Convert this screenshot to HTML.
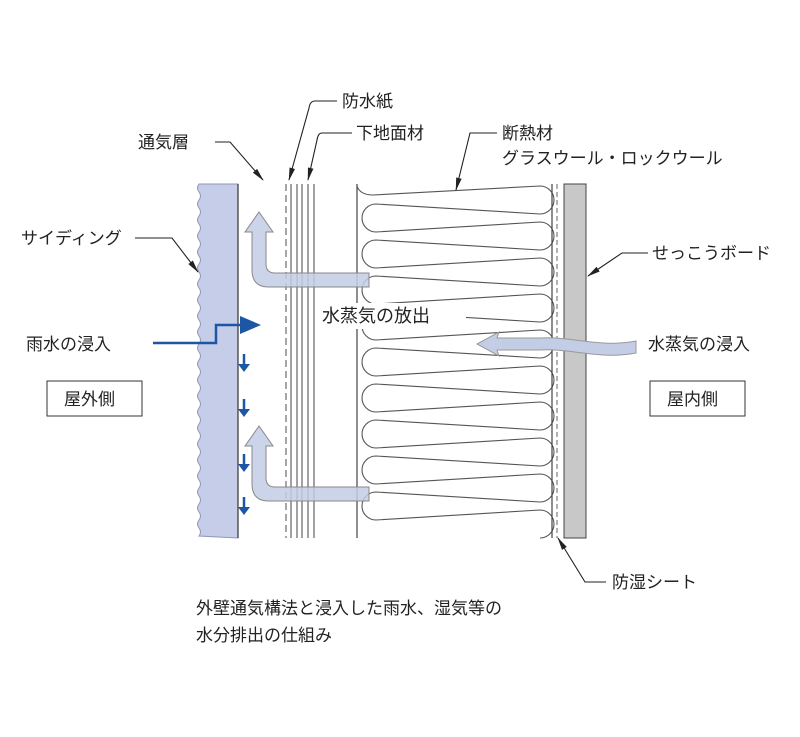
<!DOCTYPE html>
<html><head><meta charset="utf-8"><style>
body{margin:0;background:#fff;}
svg text{font-family:"Liberation Sans","Noto Sans CJK JP",sans-serif;fill:#222;}
</style></head><body>
<svg width="800" height="732" viewBox="0 0 800 732" xmlns="http://www.w3.org/2000/svg">
<defs>
<marker id="ah" viewBox="0 0 14 8" refX="13" refY="4" markerWidth="12" markerHeight="7" orient="auto"><path d="M0,1 L14,4 L0,7 z" fill="#222"/></marker>
</defs>
<path d="M199,184 q-3,4 0,8 q3,4 0,8 q-3,4 0,8 q3,4 0,8 q-3,4 0,8 q3,4 0,8 q-3,4 0,8 q3,4 0,8 q-3,4 0,8 q3,4 0,8 q-3,4 0,8 q3,4 0,8 q-3,4 0,8 q3,4 0,8 q-3,4 0,8 q3,4 0,8 q-3,4 0,8 q3,4 0,8 q-3,4 0,8 q3,4 0,8 q-3,4 0,8 q3,4 0,8 q-3,4 0,8 q3,4 0,8 q-3,4 0,8 q3,4 0,8 q-3,4 0,8 q3,4 0,8 q-3,4 0,8 q3,4 0,8 q-3,4 0,8 q3,4 0,8 q-3,4 0,8 q3,4 0,8 q-3,4 0,8 q3,4 0,8 q-3,4 0,8 q3,4 0,8 q-3,4 0,8 q3,4 0,8 q-3,4 0,8 q3,4 0,8 q-3,4 0,8 q3,4 0,8 L238,538 L238,184 z" fill="#c5cde8" stroke="#8d97b8" stroke-width="1"/>
<line x1="238" y1="184" x2="238" y2="538" stroke="#333" stroke-width="1.2"/>
<line x1="286" y1="184" x2="286" y2="538" stroke="#777" stroke-width="1.3" stroke-dasharray="7,4"/>
<g stroke="#555" stroke-width="1.1">
<line x1="291" y1="184" x2="291" y2="538"/><line x1="297" y1="184" x2="297" y2="538"/>
<line x1="302" y1="184" x2="302" y2="538"/><line x1="308" y1="184" x2="308" y2="538"/>
<line x1="314" y1="184" x2="314" y2="538"/></g>
<line x1="357" y1="184" x2="357" y2="538" stroke="#444" stroke-width="1.2"/>
<path fill="none" stroke="#555" stroke-width="1.1" d="
M357,186 q3,9 16,9 L540,186
a14,14 0 0 1 0,28 L376,204 a14,14 0 0 0 0,28 L540,222
a14,14 0 0 1 0,28 L376,240 a14,14 0 0 0 0,28 L540,258
a14,14 0 0 1 0,28 L376,276 a14,14 0 0 0 0,28 L540,294
a14,14 0 0 1 0,28 L376,312 a14,14 0 0 0 0,28 L540,330
a14,14 0 0 1 0,28 L376,348 a14,14 0 0 0 0,28 L540,366
a14,14 0 0 1 0,28 L376,384 a14,14 0 0 0 0,28 L540,402
a14,14 0 0 1 0,28 L376,420 a14,14 0 0 0 0,28 L540,438
a14,14 0 0 1 0,28 L376,456 a14,14 0 0 0 0,28 L540,474
a14,14 0 0 1 0,28 L376,492 a14,14 0 0 0 0,28 L540,510
a14,14 0 0 1 0,28"/>
<line x1="552" y1="184" x2="552" y2="538" stroke="#444" stroke-width="1.2"/>
<line x1="557" y1="184" x2="557" y2="538" stroke="#666" stroke-width="1" stroke-dasharray="5,3"/>
<rect x="564" y="184" width="22" height="354" fill="#c8c8c8" stroke="#444" stroke-width="1"/>
<path d="M369,273 L275,273 Q266,273 266,264 L266,232 L273,232 L259,212 L245,232 L252,232 L252,270 Q252,287 269,287 L369,287 z" fill="#c3cde6" fill-opacity="0.85" stroke="#888" stroke-width="1"/>
<path d="M369,487 L275,487 Q266,487 266,478 L266,446 L273,446 L259,426 L245,446 L252,446 L252,484 Q252,501 269,501 L369,501 z" fill="#c3cde6" fill-opacity="0.85" stroke="#888" stroke-width="1"/>
<path d="M636,341 C600,348 570,336 540,338 L497,338 L499,332 L477,344 L499,356 L497,350 L540,350 C570,348 600,360 636,353 z" fill="#c3cde6" stroke="#999" stroke-width="1"/>
<polyline points="153,343 216,343 216,325 242,325" fill="none" stroke="#1d56a5" stroke-width="2.5"/>
<polygon points="240,316 261,325 240,334" fill="#1d56a5"/>
<g fill="#1d56a5" stroke="#1d56a5" stroke-width="2.5">
<line x1="244" y1="354" x2="244" y2="366"/><polygon points="238,364 250,364 244,372" stroke="none"/>
<line x1="244" y1="399" x2="244" y2="411"/><polygon points="238,409 250,409 244,417" stroke="none"/>
<line x1="244" y1="454" x2="244" y2="466"/><polygon points="238,464 250,464 244,472" stroke="none"/>
<line x1="244" y1="497" x2="244" y2="509"/><polygon points="238,507 250,507 244,515" stroke="none"/>
</g>
<g fill="none" stroke="#222" stroke-width="1.1" marker-end="url(#ah)">
<path d="M215,142 L230,142 L263,180"/>
<path d="M337,101 L315,101 Q310,101 309,108 L289,180"/>
<path d="M352,133 L322,133 Q318,133 317,140 L308,180"/>
<path d="M497,133 L470,133 L456,190"/>
<path d="M135,238 L172,238 L198,272"/>
<path d="M648,253 L622,253 L588,276"/>
<path d="M606,582 L585,582 L558,538"/>
</g>
<g font-size="17">
<text x="138" y="148">通気層</text>
<text x="342" y="107">防水紙</text>
<text x="356" y="139">下地面材</text>
<text x="502" y="139">断熱材</text>
<text x="502" y="164">グラスウール・ロックウール</text>
<text x="21" y="244">サイディング</text>
<text x="652" y="259">せっこうボード</text>
<text x="612" y="588">防湿シート</text>
<text x="26" y="350">雨水の浸入</text>
<text x="648" y="350">水蒸気の浸入</text>
</g>
<rect x="320" y="303" width="146" height="26" fill="#fff"/>
<text x="322" y="322" font-size="18">水蒸気の放出</text>
<rect x="47" y="381" width="95" height="35" fill="#fff" stroke="#333"/>
<text x="64" y="405" font-size="17">屋外側</text>
<rect x="650" y="381" width="95" height="35" fill="#fff" stroke="#333"/>
<text x="667" y="405" font-size="17">屋内側</text>
<text x="196" y="614" font-size="17">外壁通気構法と浸入した雨水、湿気等の</text>
<text x="196" y="641" font-size="17">水分排出の仕組み</text>
</svg>
</body></html>
